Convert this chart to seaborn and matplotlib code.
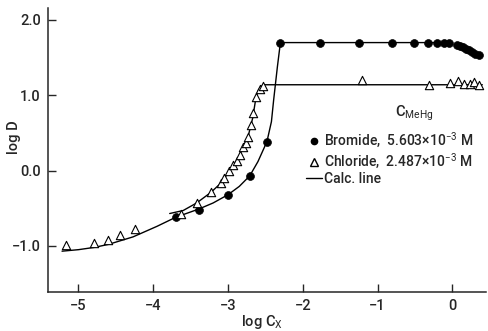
import numpy as np
import pandas as pd
import matplotlib
matplotlib.use('Agg')
import matplotlib.pyplot as plt
from matplotlib.lines import Line2D
import seaborn as sns

sns.set_style('ticks')
plt.rcParams['font.family'] = ['Roboto', 'DejaVu Sans']
plt.rcParams['mathtext.fontset'] = 'custom'
plt.rcParams['mathtext.rm'] = 'Roboto'

# measured points, bromide (filled circles)
br_x = [-3.70, -3.39, -3.00, -2.71, -2.48, -2.30, -1.77, -1.25, -0.81, -0.51, -0.33,
        -0.21, -0.11, -0.04, 0.06, 0.10, 0.14, 0.18, 0.22, 0.26, 0.30, 0.35]
br_y = [-0.62, -0.52, -0.32, -0.07, 0.385, 1.70, 1.70, 1.70, 1.70, 1.70, 1.70,
        1.70, 1.70, 1.69, 1.67, 1.66, 1.64, 1.62, 1.60, 1.58, 1.55, 1.53]

# measured points, chloride (open triangles)
cl_x = [-5.17, -4.79, -4.60, -4.44, -4.24, -3.63, -3.42, -3.23, -3.10, -3.05, -2.99,
        -2.93, -2.88, -2.84, -2.80, -2.76, -2.73, -2.69, -2.66, -2.63, -2.57, -2.53,
        -1.21, -0.31, -0.03, 0.07, 0.16, 0.24, 0.29, 0.36]
cl_y = [-0.99, -0.96, -0.92, -0.85, -0.77, -0.57, -0.43, -0.29, -0.17, -0.10, -0.01,
        0.07, 0.13, 0.21, 0.31, 0.36, 0.45, 0.61, 0.76, 0.98, 1.09, 1.13,
        1.20, 1.14, 1.16, 1.19, 1.15, 1.15, 1.18, 1.14]

# calculated lines
calc_br_x = [-5.22, -5.00, -4.79, -4.60, -4.27, -3.95, -3.70, -3.39, -3.20, -3.00, -2.85,
             -2.71, -2.60, -2.48, -2.42, -2.39, -2.34, -2.30, -0.04]
calc_br_y = [-1.07, -1.05, -1.02, -0.98, -0.88, -0.74, -0.62, -0.51, -0.43, -0.32, -0.21,
             -0.07, 0.12, 0.385, 0.65, 0.94, 1.38, 1.70, 1.70]
calc_cl_x = [-3.78, -3.60, -3.42, -3.23, -3.10, -2.99, -2.88, -2.80, -2.73, -2.67, -2.63,
             -2.60, -2.56, -2.50, 0.40]
calc_cl_y = [-0.57, -0.53, -0.43, -0.29, -0.17, -0.02, 0.14, 0.30, 0.46, 0.70, 0.95,
             1.06, 1.12, 1.14, 1.14]

fig = plt.figure(figsize=(4.88, 3.31), dpi=100)
ax = fig.add_axes([0.098, 0.119, 0.898, 0.857])

sns.lineplot(x=calc_br_x, y=calc_br_y, sort=False, estimator=None, color='black', lw=1.0, ax=ax)
sns.lineplot(x=calc_cl_x, y=calc_cl_y, sort=False, estimator=None, color='black', lw=1.0, ax=ax)
sns.scatterplot(x=br_x, y=br_y, marker='o', s=32, color='black', edgecolor='black', linewidth=0.5, ax=ax, zorder=3)
sns.scatterplot(x=cl_x, y=cl_y, marker='^', s=36, facecolor='white', edgecolor='black', linewidth=0.8, ax=ax, zorder=4)

ax.set_xlim(-5.41, 0.45)
ax.set_ylim(-1.607, 2.16)
ax.set_xticks([-5, -4, -3, -2, -1, 0])
ax.set_xticklabels(['\u22125', '\u22124', '\u22123', '\u22122', '\u22121', '0'])
ax.set_yticks([-1.0, 0.0, 1.0, 2.0])
ax.set_yticklabels(['\u22121.0', '0.0', '1.0', '2.0'])
ax.tick_params(direction='in', length=6, width=1, labelsize=10.5, pad=5)
for lab in ax.get_xticklabels() + ax.get_yticklabels():
    lab.set_fontweight('medium')
for s in ['top', 'right']:
    ax.spines[s].set_visible(False)
for s in ['left', 'bottom']:
    ax.spines[s].set_linewidth(1.1)

ax.set_xlabel('log C$_\\mathrm{X}$', fontsize=10.5, fontweight='medium')
ax.set_ylabel('log D', fontsize=10.5, fontweight='medium')
ax.xaxis.set_label_coords(0.488, -0.074)
ax.yaxis.set_label_coords(-0.062, 0.545)

ax.text(0.792, 0.63, 'C$_\\mathrm{MeHg}$', transform=ax.transAxes, fontsize=10.5,
        ha='left', va='center', fontweight='medium')
handles = [Line2D([], [], marker='o', ls='none', color='black', markersize=4.5),
           Line2D([], [], marker='^', ls='none', markerfacecolor='white',
                  markeredgecolor='black', markersize=5.5),
           Line2D([], [], color='black', lw=1.0)]
labels = ['Bromide,  5.603\u00d710$^{-3}$ M',
          'Chloride,  2.487\u00d710$^{-3}$ M',
          'Calc. line']
leg = ax.legend(handles, labels, loc='upper left', bbox_to_anchor=(0.59, 0.565),
                frameon=False, fontsize=10, handlelength=1.1, handletextpad=0.15,
                labelspacing=0.1, borderpad=0, borderaxespad=0)
for t in leg.get_texts():
    t.set_fontweight('medium')

fig.savefig('out.png', dpi=100)
